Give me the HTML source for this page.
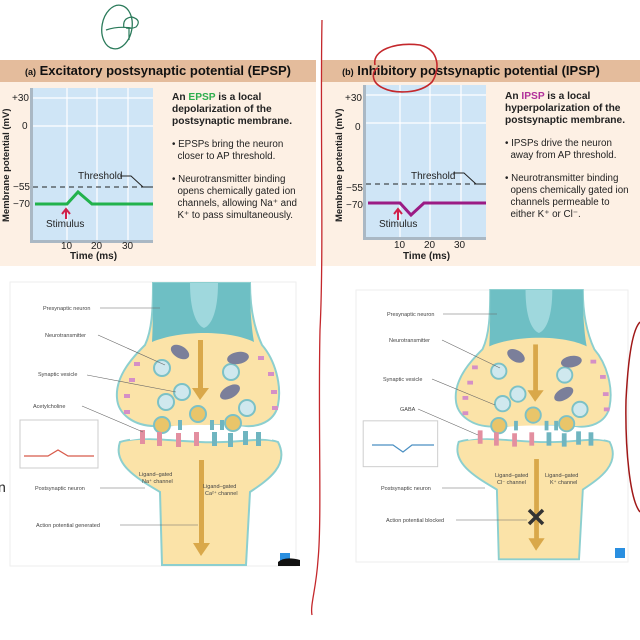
<!DOCTYPE html>
<html><head><meta charset="utf-8"><style>
body{margin:0;width:640px;height:640px;background:#fff;position:relative;overflow:hidden;font-family:"Liberation Sans",sans-serif}
.a{position:absolute;white-space:nowrap}
.hdr{position:absolute;top:60px;height:22px;background:#e4bc9c;font-weight:bold;font-size:13px;line-height:22px;text-align:center;color:#111}
.hdr small{font-size:9px;font-weight:bold}
.body{position:absolute;top:82px;height:184px;background:#fdf0e4}
.txt{position:absolute;font-size:9.8px;line-height:12px;color:#222;white-space:nowrap}
.txt b{font-size:10.2px;line-height:12px}
</style></head><body>
<div class="hdr" style="left:0;width:316px"><small>(a)</small> Excitatory postsynaptic potential (EPSP)</div>
<div class="hdr" style="left:322px;width:318px;padding-right:20px;box-sizing:border-box"><small>(b)</small> Inhibitory postsynaptic potential (IPSP)</div>
<div class="body" style="left:0;width:316px"></div>
<div class="body" style="left:322px;width:318px"></div>

<svg class="a" style="left:0;top:0" width="640" height="640" viewBox="0 0 640 640">
<defs>
<g id="graph">
 <rect x="-3" y="0" width="123" height="155" fill="#aab8c4"/>
 <rect x="0" y="0" width="120" height="152" fill="#cfe5f6"/>
 <g stroke="#fff" stroke-width="1.2"><line x1="34" y1="0" x2="34" y2="152"/><line x1="64" y1="0" x2="64" y2="152"/><line x1="95" y1="0" x2="95" y2="152"/><line x1="0" y1="10" x2="120" y2="10"/><line x1="0" y1="38" x2="120" y2="38"/></g>
 <line x1="0" y1="99" x2="120" y2="99" stroke="#222" stroke-dasharray="5,4"/>
 <polyline points="87,88 98,88 110,99 118,99" fill="none" stroke="#222"/>
</g>
</defs>
<use href="#graph" x="33" y="88"/>
<use href="#graph" x="366" y="85"/>
<polyline points="35,204 67,204 78,192 92,204 153,204" fill="none" stroke="#22b24c" stroke-width="3"/>
<polyline points="368,203 400,203 411,215 424,203 486,203" fill="none" stroke="#9b1b84" stroke-width="3"/>
<path d="M66,219 L66,210 M62,214 L66,209 L70,214" stroke="#d0204a" stroke-width="2" fill="none"/>
<path d="M398,220 L398,210 M394,214 L398,209 L402,214" stroke="#d0204a" stroke-width="2" fill="none"/>
<g font-size="10" fill="#222" font-family="Liberation Sans">
<text x="78" y="179">Threshold</text><text x="46" y="227">Stimulus</text>
<text x="12" y="101">+30</text><text x="22" y="129">0</text><text x="13" y="190">−55</text><text x="13" y="207">−70</text>
<text x="61" y="249">10</text><text x="91" y="249">20</text><text x="122" y="249">30</text>
<text x="70" y="259" font-weight="bold">Time (ms)</text>
<text transform="translate(9,222) rotate(-90)" font-weight="bold" font-size="9.5">Membrane potential (mV)</text>
<text x="411" y="179">Threshold</text><text x="379" y="227">Stimulus</text>
<text x="345" y="101">+30</text><text x="355" y="130">0</text><text x="346" y="191">−55</text><text x="346" y="208">−70</text>
<text x="394" y="248">10</text><text x="424" y="248">20</text><text x="454" y="248">30</text>
<text x="403" y="259" font-weight="bold">Time (ms)</text>
<text transform="translate(342,222) rotate(-90)" font-weight="bold" font-size="9.5">Membrane potential (mV)</text>
</g>
</svg>

<div class="txt" style="left:172px;top:92px"><b>An <span style="color:#2fae4e">EPSP</span> is a local<br>depolarization of the<br>postsynaptic membrane.</b>
<div style="margin-top:11px">• EPSPs bring the neuron<br>&nbsp;&nbsp;closer to AP threshold.</div>
<div style="margin-top:11px">• Neurotransmitter binding<br>&nbsp;&nbsp;opens chemically gated ion<br>&nbsp;&nbsp;channels, allowing Na⁺ and<br>&nbsp;&nbsp;K⁺ to pass simultaneously.</div></div>
<div class="txt" style="left:505px;top:91px"><b>An <span style="color:#b0309a">IPSP</span> is a local<br>hyperpolarization of the<br>postsynaptic membrane.</b>
<div style="margin-top:11px">• IPSPs drive the neuron<br>&nbsp;&nbsp;away from AP threshold.</div>
<div style="margin-top:11px">• Neurotransmitter binding<br>&nbsp;&nbsp;opens chemically gated ion<br>&nbsp;&nbsp;channels permeable to<br>&nbsp;&nbsp;either K⁺ or Cl⁻.</div></div>

<svg class="a" style="left:0;top:0" width="640" height="640" viewBox="0 0 640 640">
<defs>
<g id="neuron">
 <path d="M153,283 L250,283 C250,310 255,330 262,345 C275,360 282,385 278,405 C275,420 262,425 252,426 C230,428 215,422 202,428 C190,432 175,425 155,426 C135,426 118,415 117,398 C115,375 135,355 145,345 C152,330 153,310 153,283 Z" fill="#fbe3a8" stroke="#8ccfcf" stroke-width="2"/>
 <path d="M153,283 L250,283 C250,305 251,325 254,342 C230,330 180,330 152,342 C153,325 153,305 153,283 Z" fill="#6ebfc4"/>
 <path d="M190,283 L218,283 C218,310 212,325 204,328 C196,325 190,310 190,283 Z" fill="#9fd8dd"/>
 <path d="M120,442 C140,436 160,440 200,442 C240,444 262,436 278,442 C290,465 268,480 250,492 L246,565 L162,565 L160,492 C140,480 112,465 120,442 Z" fill="#fbe3a8" stroke="#8ccfcf" stroke-width="2"/>
 <path d="M130,430 C160,428 180,424 205,425 C235,424 255,428 272,432 L272,440 C250,436 230,440 200,440 C170,440 150,436 130,440 Z" fill="#ffffff"/>
 <rect x="198" y="340" width="5" height="50" fill="#d9a84a"/><path d="M192,388 L209,388 L200,400 Z" fill="#d9a84a"/>
 <rect x="199" y="460" width="5" height="85" fill="#d9a84a"/><path d="M193,543 L210,543 L201,556 Z" fill="#d9a84a"/>
 <g fill="#cfe8ee" stroke="#7cc1c6" stroke-width="2"><circle cx="162" cy="368" r="8"/><circle cx="182" cy="392" r="8"/><circle cx="166" cy="402" r="8"/><circle cx="231" cy="372" r="8"/><circle cx="247" cy="408" r="8"/></g>
 <g fill="#e9c56a" stroke="#7cc1c6" stroke-width="2"><circle cx="162" cy="425" r="8"/><circle cx="198" cy="414" r="8"/><circle cx="233" cy="423" r="8"/></g>
 <g fill="#7b7f9a"><ellipse cx="180" cy="352" rx="10" ry="6" transform="rotate(30 180 352)"/><ellipse cx="238" cy="358" rx="11" ry="6" transform="rotate(-10 238 358)"/><ellipse cx="230" cy="392" rx="11" ry="6" transform="rotate(-30 230 392)"/></g>
 <g fill="#e38fa0"><rect x="140" y="430" width="5" height="14"/><rect x="157" y="432" width="5" height="14"/><rect x="176" y="433" width="5" height="14"/><rect x="194" y="432" width="5" height="14"/></g>
 <g fill="#6fb5c0"><rect x="212" y="432" width="5" height="14"/><rect x="228" y="433" width="5" height="14"/><rect x="243" y="431" width="5" height="14"/><rect x="256" y="432" width="5" height="14"/><rect x="178" y="420" width="4" height="10"/><rect x="210" y="420" width="4" height="10"/><rect x="220" y="420" width="4" height="10"/></g>
 <g fill="#d58fc6"><rect x="134" y="362" width="6" height="4"/><rect x="129" y="378" width="6" height="4"/><rect x="124" y="394" width="6" height="4"/><rect x="124" y="410" width="6" height="4"/><rect x="258" y="356" width="6" height="4"/><rect x="268" y="372" width="6" height="4"/><rect x="271" y="390" width="6" height="4"/><rect x="272" y="406" width="6" height="4"/></g>
 <rect x="20" y="420" width="78" height="48" fill="#fff" stroke="#ccc"/>
</g>
</defs>
<rect x="10" y="282" width="286" height="284" fill="#fff" stroke="#eee"/>
<use href="#neuron"/>
<polyline points="24,456 48,456 58,450 68,456 94,456" fill="none" stroke="#d85a4a" stroke-width="1.2"/>
<g stroke="#666" stroke-width="0.6" fill="none"><line x1="100" y1="308" x2="160" y2="308"/><line x1="98" y1="335" x2="165" y2="365"/><line x1="87" y1="375" x2="176" y2="392"/><line x1="82" y1="406" x2="143" y2="432"/><line x1="100" y1="488" x2="145" y2="488"/><line x1="120" y1="525" x2="198" y2="525"/></g>
<g font-size="5.5" fill="#444" font-family="Liberation Sans">
<text x="43" y="310">Presynaptic neuron</text><text x="45" y="337">Neurotransmitter</text><text x="38" y="376">Synaptic vesicle</text><text x="33" y="408">Acetylcholine</text><text x="35" y="490">Postsynaptic neuron</text><text x="36" y="527">Action potential generated</text>
<text x="139" y="476">Ligand–gated</text><text x="142" y="483">Na⁺ channel</text><text x="203" y="488">Ligand–gated</text><text x="205" y="495">Ca²⁺ channel</text></g>
<rect x="280" y="553" width="10" height="10" fill="#2a8fe0"/>
<path d="M278,562 Q285,556 300,560 L300,566 L278,566 Z" fill="#111"/>

<rect x="356" y="290" width="272" height="272" fill="#fff" stroke="#eee"/>
<g transform="translate(537,290) scale(0.955) translate(-202,-283)"><use href="#neuron"/></g>
<polyline points="372,445 393,445 403,452 412,445 434,445" fill="none" stroke="#4a8fc2" stroke-width="1.2"/>
<path d="M529,510 L543,524 M543,510 L529,524" stroke="#333" stroke-width="3.5"/>
<g stroke="#666" stroke-width="0.6" fill="none"><line x1="443" y1="314" x2="497" y2="314"/><line x1="442" y1="340" x2="500" y2="368"/><line x1="432" y1="379" x2="495" y2="405"/><line x1="418" y1="409" x2="478" y2="435"/><line x1="442" y1="488" x2="485" y2="488"/><line x1="456" y1="520" x2="527" y2="520"/></g>
<g font-size="5.5" fill="#444" font-family="Liberation Sans">
<text x="387" y="316">Presynaptic neuron</text><text x="389" y="342">Neurotransmitter</text><text x="383" y="381">Synaptic vesicle</text><text x="400" y="411">GABA</text><text x="381" y="490">Postsynaptic neuron</text><text x="386" y="522">Action potential blocked</text>
<text x="495" y="477">Ligand–gated</text><text x="497" y="484">Cl⁻ channel</text><text x="545" y="477">Ligand–gated</text><text x="550" y="484">K⁺ channel</text></g>
<rect x="615" y="548" width="10" height="10" fill="#2a8fe0"/>

<ellipse cx="117" cy="27" rx="15" ry="22" fill="none" stroke="#2a7a5a" stroke-width="1.3" transform="rotate(10 117 27)"/>
<path d="M106,30 Q118,26 131,28 M124,28 Q122,18 132,17 Q142,20 136,27 Q132,29 126,28 M129,27 L129,40" fill="none" stroke="#2a7a5a" stroke-width="1.2"/>
<path d="M322,20 C320,120 324,250 320,330 C318,420 322,520 318,560 C316,590 310,605 312,615" fill="none" stroke="#c4282c" stroke-width="1.3"/>
<path d="M375,65 C372,50 395,42 420,45 C440,50 440,70 432,82 C420,94 395,94 383,88 C370,82 372,70 378,68" fill="none" stroke="#c4282c" stroke-width="1.6"/>
<path d="M640,322 C632,330 628,360 626,400 C625,450 630,500 640,512" fill="none" stroke="#a01818" stroke-width="1.5"/>
<text x="-2" y="492" font-size="14" fill="#222" font-family="Liberation Sans">n</text>
</svg>
</body></html>
